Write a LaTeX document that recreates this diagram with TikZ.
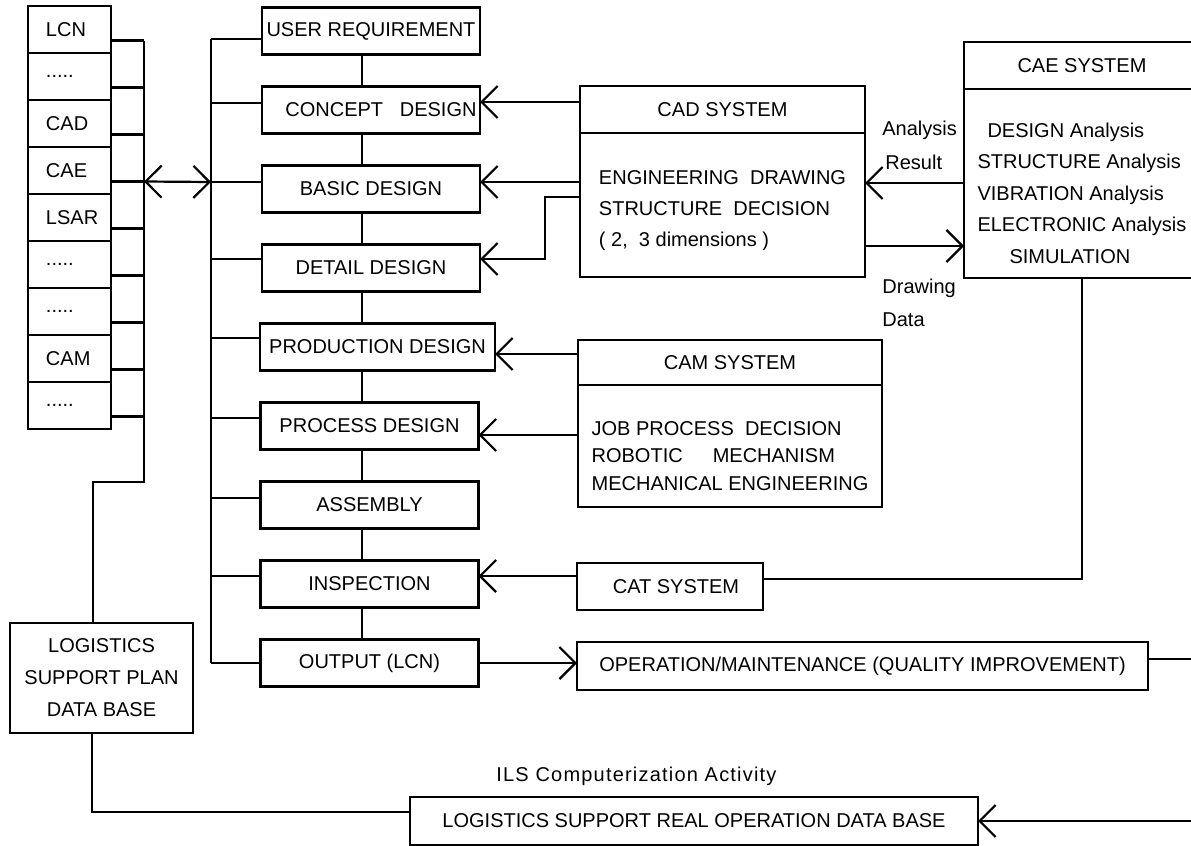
\documentclass[tikz,border=0pt]{standalone}
\usepackage{fontspec}
\setmainfont{Liberation Sans}
\usetikzlibrary{arrows.meta,positioning}

\tikzset{
  box/.style={draw, line width=1.1pt, outer sep=0pt, inner sep=0pt,
    minimum width=109pt, minimum height=23.5pt},
  cell/.style={box, minimum width=41.5pt, text width=23.5pt, inner xsep=9pt, align=left},
  wire/.style={line width=1.1pt},
  tag/.style={inner sep=0pt, anchor=west}
}

\begin{document}
\begin{tikzpicture}[x=0.5pt, y=-0.5pt, node distance=16pt,
    >={Straight Barb[length=8pt,width=16pt]},
    node font=\fontsize{10}{12}\selectfont]
    \useasboundingbox (0,0) rectangle (1191,846);
    \coordinate (colbus) at (144,0);
    \coordinate (bus) at (211,0);
    \coordinate (spine) at (362,0);
    \coordinate (rim) at (1191,0);
    %
    % item column and plan data base
    \node[cell] (c1) at (69.5,29.5) {LCN};
    \node[cell, below=0pt of c1] (c2) {.....};
    \node[cell, below=0pt of c2] (c3) {CAD};
    \node[cell, below=0pt of c3] (c4) {CAE};
    \node[cell, below=0pt of c4] (c5) {LSAR};
    \node[cell, below=0pt of c5] (c6) {.....};
    \node[cell, below=0pt of c6] (c7) {.....};
    \node[cell, below=0pt of c7] (c8) {CAM};
    \node[cell, below=0pt of c8] (c9) {.....};
    \node[box, minimum width=91.5pt, minimum height=55pt, align=center,
      node font=\fontsize{10}{16}\selectfont] (logistics) at (101.5,678)
      {LOGISTICS\\SUPPORT PLAN\\DATA BASE};
    \foreach \i in {1,...,9}
      \draw[wire] ([yshift=-5.5pt]c\i.east) -- ([yshift=-5.5pt]c\i.east -| colbus);
    \draw[wire] ([yshift=-5.5pt]c1.east -| colbus) -- (144,482) -| ([xshift=-4.25pt]logistics.north);
    %
    % life cycle steps
    \node[box] (user) at (371,31) {USER REQUIREMENT};
    \node[box, below=of user] (concept) {\hspace*{10pt}CONCEPT~~~DESIGN};
    \node[box, below=of concept] (basic) {BASIC DESIGN};
    \node[box, below=of basic] (detail) {DETAIL DESIGN};
    \node[box, minimum width=117.5pt, below=of detail, xshift=3.25pt] (production) {PRODUCTION DESIGN};
    \node[box, below=of production, xshift=-4pt] (process) {PROCESS DESIGN};
    \node[box, below=of process] (assembly) {ASSEMBLY};
    \node[box, below=of assembly] (inspection) {INSPECTION};
    \node[box, below=of inspection] (output) {OUTPUT (LCN)};
    \foreach \a/\b in {user/concept, concept/basic, basic/detail, detail/production,
      production/process, process/assembly, assembly/inspection, inspection/output}
      \draw[wire] (\a.south -| spine) -- (\b.north -| spine);
    \foreach \b/\s in {user/-4, concept/3.5, basic/3.5, detail/4.5, production/4.5,
      process/4, assembly/3.5, inspection/4, output/0}
      \draw[wire] ([yshift=\s]\b.west) -- ([yshift=\s]\b.west -| bus);
    \draw[wire] ([yshift=-4pt]user.west -| bus) -- (output.west -| bus);
    \draw[wire, <->] ([yshift=-5.5pt]c4.east -| colbus) -- ([yshift=3.5pt]basic.west -| bus);
    %
    % CAD system
    \node[box, minimum width=142.5pt, minimum height=72pt, align=left,
      node font=\fontsize{10}{15.5}\selectfont] (cad) at (722.5,205)
      {\rule{0pt}{13pt}ENGINEERING~~DRAWING\\STRUCTURE~~DECISION\\(~2,~~3 dimensions~)};
    \node[box, minimum width=142.5pt, above=0pt of cad] (cadhead) {CAD SYSTEM};
    \draw[wire, ->] ([yshift=4pt]concept.east -| cadhead.west) -- ([yshift=4pt]concept.east);
    \draw[wire, ->] ([yshift=3.5pt]basic.east -| cad.west) -- ([yshift=3.5pt]basic.east);
    \draw[wire, ->] ([yshift=4pt]cad.west) -- ++(-17.5pt,0) |- ([yshift=4.5pt]detail.east);
    %
    % CAE system
    \node[box, minimum width=118pt, minimum height=94.5pt, align=left,
      node font=\fontsize{10}{15.75}\selectfont] (cae) at (1082,183.5)
      {\rule{0pt}{17pt}\hspace*{5pt}DESIGN Analysis\\STRUCTURE Analysis\\VIBRATION Analysis\\
       ELECTRONIC Analysis\\\hspace*{16pt}SIMULATION};
    \node[box, minimum width=118pt, above=0pt of cae] (caehead) {CAE SYSTEM};
    \draw[wire, ->] ([yshift=11pt]cad.east -| cae.west) -- ([yshift=11pt]cad.east);
    \draw[wire, ->] ([yshift=-20.5pt]cad.east) -- ([yshift=-20.5pt]cad.east -| cae.west);
    \node[tag] (anl) at (882,130) {Analysis};
    \node[tag] (res) at (885,162) {Result};
    \node[tag] (drw) at (882,288) {Drawing};
    \node[tag] (dat) at (882,320) {Data};
    %
    % CAM system
    \node[box, minimum width=152pt, minimum height=61pt, align=left,
      node font=\fontsize{10}{13.75}\selectfont] (cam) at (730,446)
      {\rule{0pt}{17pt}JOB PROCESS~~DECISION\\ROBOTIC\hspace{15pt}MECHANISM\\MECHANICAL ENGINEERING};
    \node[box, minimum width=152pt, minimum height=22.5pt, above=0pt of cam] (camhead) {CAM SYSTEM};
    \draw[wire, ->] ([yshift=-3.5pt]production.east -| camhead.west) -- ([yshift=-3.5pt]production.east);
    \draw[wire, ->] ([yshift=-4.5pt]process.east -| cam.west) -- ([yshift=-4.5pt]process.east);
    %
    % test, operation and real data base
    \node[box, minimum width=93pt] (cat) at (670,586.5) {\hspace*{6pt}CAT SYSTEM};
    \draw[wire, ->] ([yshift=4pt]inspection.east -| cat.west) -- ([yshift=4pt]inspection.east);
    \draw[wire] (cae.south) |- ([yshift=3.75pt]cat.east);
    \node[box, minimum width=285.5pt, minimum height=24pt] (operation) at (862.5,666)
      {OPERATION/MAINTENANCE (QUALITY IMPROVEMENT)};
    \draw[wire, ->] (output.east) -- (output.east -| operation.west);
    \draw[wire] ([yshift=3.5pt]operation.east) -- ([yshift=3.5pt]operation.east -| rim);
    \node[box, minimum width=284pt, minimum height=24pt] (real) at (694,821)
      {LOGISTICS SUPPORT REAL OPERATION DATA BASE};
    \draw[wire, ->] (real.east -| rim) -- (real.east);
    \draw[wire] ([xshift=-4.75pt]logistics.south) |- ([yshift=4.5pt]real.west);
    \node[tag, node font=\fontsize{10}{12}\selectfont\addfontfeature{LetterSpace=6}] (ils) at (496,776)
      {ILS Computerization Activity};
\end{tikzpicture}
\end{document}
